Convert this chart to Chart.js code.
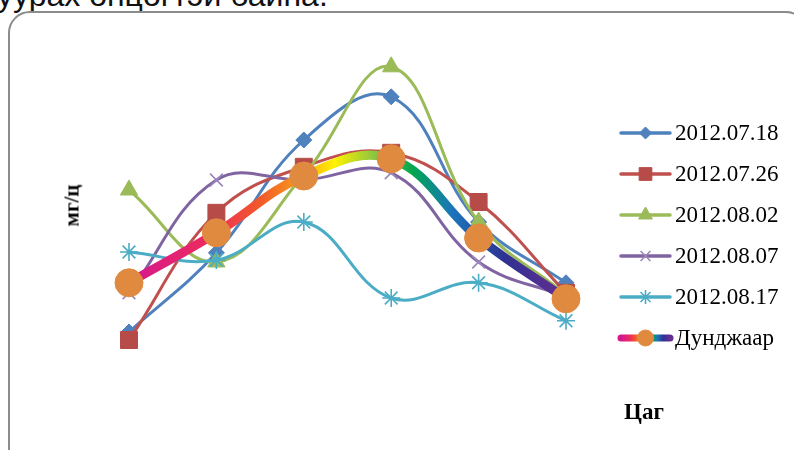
<!DOCTYPE html>
<html>
<head>
<meta charset="utf-8">
<script src="https://cdn.jsdelivr.net/npm/chart.js@4.4.1/dist/chart.umd.min.js"></script>
<style>
    body { margin: 0; background: #fff; }
    #wrap { position: relative; width: 794px; height: 450px; overflow: hidden; }
    #frame { position: absolute; left: 8px; top: 11px; width: 800px; height: 460px;
             border: 2px solid #8c8c8c; border-radius: 22px; box-sizing: border-box; }
    #topText { position: absolute; left: -3px; top: -21px; font: 32px/32px "Liberation Sans", Arial, sans-serif;
               color: #111; white-space: nowrap; }
    .axTitle { position: absolute; font-family: "Liberation Serif", "Times New Roman", serif;
               font-weight: bold; color: #000; }
    #yTitle { left: 44px; top: 193px; font-size: 21px; transform: rotate(-90deg); transform-origin: center; width: 56px; text-align: center; }
    #xTitle { left: 624px; top: 399px; font-size: 23px; }
    canvas { position: absolute; left: 0; top: 0; }
</style>
</head>
<body>
<div id="wrap">
    <div id="topText">уурах өнцөгтэй байна.</div>
    <div id="frame"></div>
    <canvas id="myChart" width="794" height="450"></canvas>
    <div class="axTitle" id="yTitle">мг/ц</div>
    <div class="axTitle" id="xTitle">Цаг</div>
</div>
<script>
// hours (no tick labels shown on the original chart)
var hours = ['1', '2', '3', '4', '5', '6'];

var seriesNames = ['2012.07.18', '2012.07.26', '2012.08.02', '2012.08.07', '2012.08.17', 'Дунджаар'];

var d0718 = [1.70, 3.68, 6.50, 7.58, 4.45, 2.93];
var d0726 = [1.50, 4.68, 5.83, 6.18, 4.95, 2.68];
var d0802 = [5.25, 3.45, 5.63, 8.33, 4.45, 2.63];
var d0807 = [2.68, 5.50, 5.50, 5.68, 3.45, 2.58];
var d0817 = [3.70, 3.50, 4.45, 2.55, 2.93, 1.98];
var average = [2.93, 4.18, 5.60, 6.03, 4.05, 2.53];

var rainbow = [
    [0, '#d4188f'], [0.18, '#ec2a5e'], [0.3, '#f15a29'], [0.38, '#f7941d'],
    [0.47, '#fff200'], [0.56, '#8dc63f'], [0.65, '#00a651'], [0.74, '#1c75bc'],
    [0.86, '#2e3192'], [1, '#662d91']
];

function rainbowGradient(ctx, x0, x1) {
    var g = ctx.createLinearGradient(x0, 0, x1, 0);
    rainbow.forEach(function (s) { g.addColorStop(s[0], s[1]); });
    return g;
}

function series(i, data, color, style, radius, pointColor, pointWidth) {
    return {
        label: seriesNames[i],
        data: data,
        borderColor: color,
        backgroundColor: pointColor || color,
        borderWidth: 3,
        tension: 0.4,
        pointStyle: style,
        pointRadius: radius,
        pointBorderColor: pointColor || color,
        pointBackgroundColor: pointColor || color,
        pointBorderWidth: pointWidth || 1,
        order: 10 - i
    };
}

var datasets = [
    series(0, d0718, '#4f81bd', 'rectRot', 8),
    series(1, d0726, '#c0504d', 'rect', 12, '#b64b48'),
    series(2, d0802, '#9bbb59', 'triangle', 10),
    series(3, d0807, '#8064a2', 'crossRot', 9, '#9b87bb', 1.6),
    series(4, d0817, '#4bacc6', 'star', 9, '#4bacc6', 1.6),
    {
        label: seriesNames[5],
        data: average,
        borderColor: function (c) {
            var a = c.chart.chartArea;
            if (!a) return '#f79646';
            return rainbowGradient(c.chart.ctx, a.left, a.right);
        },
        borderWidth: 9,
        tension: 0.4,
        pointStyle: 'circle',
        pointRadius: 14,
        pointBackgroundColor: '#e08a40',
        pointBorderColor: '#e08a40',
        pointBorderWidth: 1,
        order: 0
    }
];

// legend sizes of the markers
var legendRadius = [6, 9, 8, 7, 7, 8];

// legend on the right: line sample with marker in the middle, serif text
var sideLegend = {
    id: 'sideLegend',
    afterDraw: function (chart) {
        var ctx = chart.ctx;
        var x0 = 621, x1 = 670, y = 133, step = 41;
        chart.data.datasets.forEach(function (ds, i) {
            var yy = y + i * step;
            ctx.save();
            ctx.lineCap = 'round';
            if (i === 5) {
                ctx.strokeStyle = rainbowGradient(ctx, x0, x1);
                ctx.lineWidth = 7;
            } else {
                ctx.strokeStyle = ds.borderColor;
                ctx.lineWidth = 3.5;
            }
            ctx.beginPath();
            ctx.moveTo(x0, yy);
            ctx.lineTo(x1, yy);
            ctx.stroke();
            ctx.restore();

            ctx.save();
            ctx.fillStyle = ds.pointBackgroundColor;
            ctx.strokeStyle = ds.pointBorderColor;
            ctx.lineWidth = ds.pointBorderWidth;
            Chart.helpers.drawPoint(ctx, {
                pointStyle: ds.pointStyle,
                radius: legendRadius[i],
                rotation: 0,
                borderWidth: ds.pointBorderWidth
            }, (x0 + x1) / 2, yy);
            ctx.fillStyle = '#000';
            ctx.font = '23px "Liberation Serif", "Times New Roman", serif';
            ctx.textBaseline = 'middle';
            ctx.fillText(ds.label, 675, yy + 1);
            ctx.restore();
        });
    }
};

var ctx = document.getElementById('myChart').getContext('2d');
var myChart = new Chart(ctx, {
    type: 'line',
    data: {
        labels: hours,
        datasets: datasets
    },
    options: {
        responsive: false,
        animation: false,
        layout: { padding: { left: 129, right: 228, top: 40, bottom: 50 } },
        plugins: {
            legend: { display: false },
            tooltip: { enabled: false }
        },
        elements: { point: { hoverRadius: 0 } },
        datasets: { line: { clip: false } },
        scales: {
            x: { display: false, offset: false },
            y: { display: false, min: 0, max: 9 }
        }
    },
    plugins: [sideLegend]
});
</script>
</body>
</html>
